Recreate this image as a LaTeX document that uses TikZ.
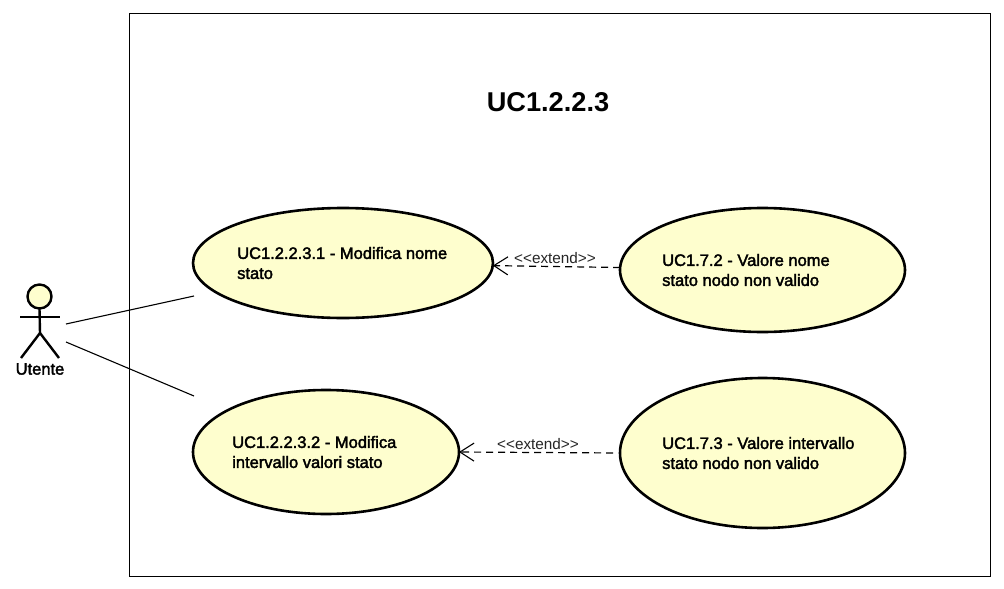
\documentclass[tikz,border=0pt]{standalone}
\usepackage{fontspec}
\setmainfont{Liberation Sans}
\newfontfamily\ucfont[FakeBold=2.2]{Liberation Sans}
\usetikzlibrary{arrows.meta,shapes.geometric}
\definecolor{ucfill}{HTML}{FEFECE}
\tikzset{
  usecase/.style={draw=black,line width=2.6pt,fill=ucfill,ellipse,inner sep=0pt,outer sep=0pt},
  uctext/.style={anchor=west,align=left,inner sep=0pt,font=\ucfont\fontsize{16.5}{20}\selectfont,text=black},
  assoc/.style={draw=black,line width=1.1pt},
  extendline/.style={draw=black,line width=1.2pt,dash pattern=on 7pt off 5pt,
     -{Straight Barb[length=14pt,width=18pt,line width=1.1pt]}},
  stereo/.style={inner sep=0pt,font=\fontsize{15.3}{16}\selectfont,text=black!85},
  limb/.style={draw=black,line width=2.4pt},
}
\begin{document}
\begin{tikzpicture}[x=1pt,y=-1pt]
\useasboundingbox (0,0) rectangle (1004,589);
\fill[white] (0,0) rectangle (1004,589);
\node[draw=black,line width=1pt,minimum width=861pt,minimum height=563pt,inner sep=0pt,outer sep=0pt,anchor=north west] (frame) at (129.5,13.5) {};
\node[inner sep=0pt,font=\fontsize{27.2}{32}\selectfont\bfseries] (title) at (548,102) {UC1.2.2.3};

\node[usecase,minimum width=300pt,minimum height=110pt] (A) at (343,263) {};
\node[usecase,minimum width=266pt,minimum height=124pt] (B) at (326,452) {};
\node[usecase,minimum width=285pt,minimum height=124pt] (C) at (762.5,270) {};
\node[usecase,minimum width=285pt,minimum height=150pt] (D) at (762.5,453) {};

\node[uctext] (ta) at (237,263) {UC1.2.2.3.1 - Modifica nome\\stato};
\node[uctext] (tb) at (232,452) {UC1.2.2.3.2 - Modifica\\intervallo valori stato};
\node[uctext] (tc) at (662,270) {UC1.7.2 - Valore nome\\stato nodo non valido};
\node[uctext] (td) at (662,453) {UC1.7.3 - Valore intervallo\\stato nodo non valido};

% actor
\node[circle,draw=black,line width=2.4pt,fill=ucfill,minimum size=24pt,inner sep=0pt,outer sep=0pt] (head) at (39.5,296.5) {};
\coordinate (hip) at (40,333);
\coordinate (armL) at (20,317);
\coordinate (armR) at (60,317);
\coordinate (legL) at (21,358);
\coordinate (legR) at (59,358);
\draw[limb] (head.south) -- (hip);
\draw[limb] (armL) -- (armR);
\draw[limb] (legL) -- (hip) -- (legR);
\node[inner sep=0pt,font=\ucfont\fontsize{16.5}{16}\selectfont] (actor) at (40,369) {Utente};

% associations
\coordinate (a1) at (66,324);
\coordinate (a2) at (66,342);
\coordinate (e1) at (194,296);
\coordinate (e2) at (194,396);
\draw[assoc] (a1) -- (e1);
\draw[assoc] (a2) -- (e2);

% extends
\draw[extendline] (C.179) -- (A.359);
\draw[extendline,shorten <=7pt] (D.west) -- (B.east);
\node[stereo] (s1) at (555,258) {{<}{<}extend{>}{>}};
\node[stereo] (s2) at (538,444.5) {{<}{<}extend{>}{>}};
\end{tikzpicture}
\end{document}
